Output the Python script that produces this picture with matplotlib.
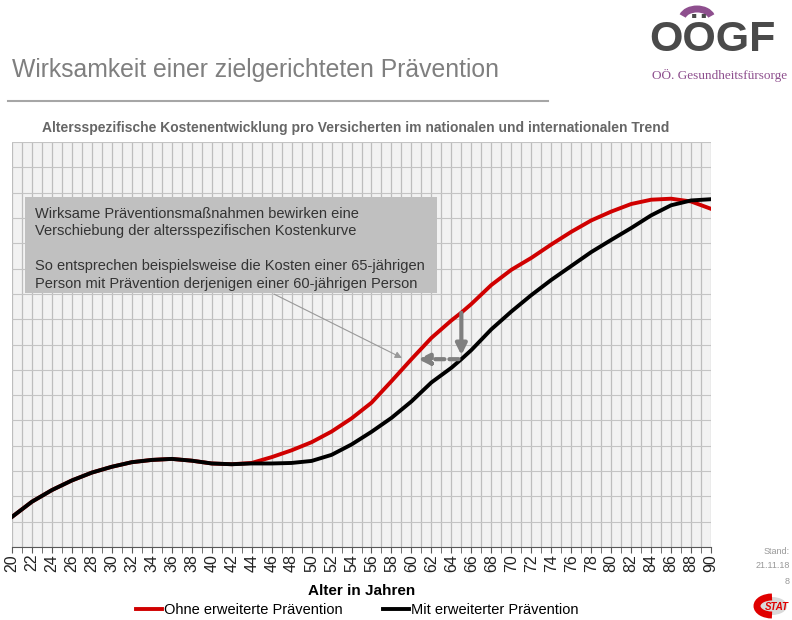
import matplotlib
matplotlib.use("Agg")
import matplotlib.pyplot as plt
from matplotlib.patches import Rectangle, Arc, Ellipse
import numpy as np

plt.rcParams['font.family'] = ['Liberation Sans', 'DejaVu Sans']

# ages (x axis) and cost curves (arbitrary units, 0..16 grid)
ages = [20, 22, 24, 26, 28, 30, 32, 34, 36, 38, 40, 42, 44, 46, 48, 50, 52, 54, 56, 58,
        60, 62, 64, 65, 66, 68, 70, 72, 74, 76, 78, 80, 82, 84, 86, 88, 90]
ohne = [1.19, 1.79, 2.25, 2.63, 2.94, 3.17, 3.35, 3.44, 3.48, 3.41, 3.30, 3.27, 3.32,
        3.55, 3.82, 4.14, 4.56, 5.08, 5.70, 6.55, 7.42, 8.26, 8.95, 9.26, 9.60, 10.35,
        10.95, 11.42, 11.95, 12.45, 12.90, 13.25, 13.55, 13.72, 13.76, 13.65, 13.36]
mit = [1.19, 1.79, 2.25, 2.63, 2.94, 3.17, 3.35, 3.44, 3.48, 3.41, 3.30, 3.27, 3.30,
       3.30, 3.32, 3.40, 3.64, 4.05, 4.55, 5.10, 5.75, 6.50, 7.08, 7.42, 7.78, 8.60,
       9.30, 9.95, 10.55, 11.10, 11.65, 12.13, 12.60, 13.10, 13.50, 13.69, 13.74]

title = "Wirksamkeit einer zielgerichteten Prävention"
chart_title = "Altersspezifische Kostenentwicklung pro Versicherten im nationalen und internationalen Trend"
box_text = ("Wirksame Präventionsmaßnahmen bewirken eine\n"
            "Verschiebung der altersspezifischen Kostenkurve\n\n"
            "So entsprechen beispielsweise die Kosten einer 65-jährigen\n"
            "Person mit Prävention derjenigen einer 60-jährigen Person")

fig = plt.figure(figsize=(7.92, 6.2), dpi=100)
ax = fig.add_axes([12/792, 1-547/620, 699/792, 405/620])
ax.set_facecolor('#f2f2f2')

l1, = ax.plot(ages, ohne, color='#d00000', lw=2.8, label='Ohne erweiterte Prävention', zorder=4)
l2, = ax.plot(ages, mit, color='black', lw=2.8, label='Mit erweiterter Prävention', zorder=5)

ax.set_xlim(20, 90)
ax.set_ylim(0, 16)
ax.set_xticks(range(20, 91, 2))
ax.set_xticks(range(20, 91), minor=True)
ax.set_xticklabels([str(a) for a in range(20, 91, 2)], rotation=90, fontsize=11.5, color='#222222')
ax.set_yticks(range(0, 17))
ax.tick_params(axis='y', left=False, labelleft=False)
ax.tick_params(axis='x', which='both', direction='out', length=4, color='#595959', pad=1)
ax.grid(True, which='both', axis='x', color='#bdbdbd', lw=0.9, zorder=0)
ax.grid(True, axis='y', color='#c4c4c4', lw=0.8, zorder=0)
for s in ['top', 'left', 'right']:
    ax.spines[s].set_visible(False)
ax.spines['bottom'].set_color('#595959')
ax.set_axisbelow(True)

ax.set_xlabel('Alter in Jahren', fontsize=11, fontweight='bold', labelpad=9)

# annotation box
ax.add_patch(Rectangle((21.3, 10.04), 41.3, 3.79, facecolor='#c0c0c0', edgecolor='none', zorder=6))
ax.text(22.3, 13.45, box_text, fontsize=10.5, color='#333333', va='top', ha='left',
        linespacing=1.32, zorder=7)

# shift arrows (65 -> 60)
i60 = ages.index(60)
i65 = ages.index(65)
ax.annotate('', xy=(59.3, ohne[i60]), xytext=(46.0, 10.04),
            arrowprops=dict(arrowstyle='-|>', color='#999999', lw=0.8, mutation_scale=10), zorder=7)
ax.annotate('', xy=(65, mit[i65] + 0.05), xytext=(65, ohne[i65] + 0.1),
            arrowprops=dict(arrowstyle='-|>', color='#7f7f7f', lw=3, mutation_scale=16), zorder=7)
ax.annotate('', xy=(60.4, ohne[i60]), xytext=(65, ohne[i60]),
            arrowprops=dict(arrowstyle='-|>', color='#7f7f7f', lw=3, ls=(0, (2.2, 1.2)),
                            mutation_scale=16), zorder=7)

fig.legend(handles=[l1, l2], loc='center', bbox_to_anchor=(357/792, 1-610/620), ncol=2,
           frameon=False, fontsize=10.5, handlelength=1.8, handletextpad=0.1,
           columnspacing=2.8, borderpad=0, borderaxespad=0)

# titles
fig.text(12/792, 1-70/620, title, fontsize=17.8, color='#7f7f7f', va='center', ha='left')
fig.add_artist(plt.Line2D([8/792, 548/792], [1-101/620, 1-101/620], color='#a6a6a6', lw=1.5))
fig.text(356/792, 1-128/620, chart_title, fontsize=10, fontweight='bold', color='#666666',
         va='center', ha='center')

# logo
fig.text(712/792, 1-40/620, 'OÖGF', fontsize=31, fontweight='bold', color='#4a4a4a',
         va='center', ha='center')
fig.add_artist(Arc((697/792, 1-19/620), 30/792, 20/620, theta1=15, theta2=165,
                   color='#8e4f8e', lw=5, transform=fig.transFigure))
fig.text(720/792, 1-75/620, 'OÖ. Gesundheitsfürsorge', fontsize=9.5, color='#8e4f8e',
         va='center', ha='center', family=['Liberation Serif', 'DejaVu Serif'])

# footer
fig.text(790/792, 1-551/620, 'Stand:', fontsize=6.5, color='#999999', ha='right', va='center')
fig.text(790/792, 1-566/620, '21.11.18', fontsize=6.5, color='#999999', ha='right', va='center')
fig.text(790/792, 1-582/620, '8', fontsize=6.5, color='#999999', ha='right', va='center')
fig.add_artist(Ellipse((772/792, 1-606/620), 30/792, 18/620, angle=0, facecolor='#d9d9d9',
                       edgecolor='none', transform=fig.transFigure))
fig.add_artist(Arc((772/792, 1-606/620), 30/792, 18/620, theta1=90, theta2=270,
                   color='#e00000', lw=5, transform=fig.transFigure))
fig.text(777/792, 1-607/620, 'STAT', fontsize=7, fontweight='bold', color='#e00000',
         style='italic', ha='center', va='center')

fig.savefig('out.png', dpi=100)
